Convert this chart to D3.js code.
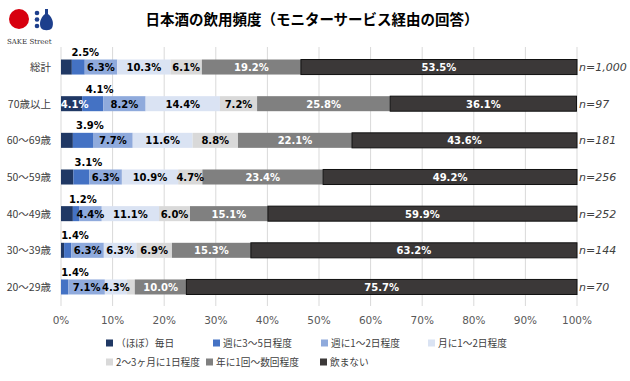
<!DOCTYPE html>
<html>
<head>
<meta charset="utf-8">
<script src="https://cdnjs.cloudflare.com/ajax/libs/d3/7.8.5/d3.min.js"></script>
<style>
body { margin: 0; background: #fff; }
svg { display: block; }
text { font-family: "Noto Sans CJK JP", sans-serif; }
.num { font-family: "DejaVu Sans", Verdana, sans-serif; }
</style>
</head>
<body>
<div id="chart"></div>
<script>
// rows, top to bottom
var categories = ["総計", "70歳以上", "60〜69歳", "50〜59歳", "40〜49歳", "30〜39歳", "20〜29歳"];
var sampleSizes = ["n=1,000", "n=97", "n=181", "n=256", "n=252", "n=144", "n=70"];

var seriesNames = ["（ほぼ）毎日", "週に3〜5日程度", "週に1〜2日程度", "月に1〜2日程度",
  "2〜3ヶ月に1日程度", "年に1回〜数回程度", "飲まない"];

// percentages per row, same order as categories
var everyDay   = [2.1, 4.1, 2.3, 2.4, 2.3, 0.6, 0];
var week3to5   = [2.5, 4.1, 3.9, 3.1, 1.2, 1.4, 1.4];
var week1to2   = [6.3, 8.2, 7.7, 6.3, 4.4, 6.3, 7.1];
var month1to2  = [10.3, 14.4, 11.6, 10.9, 11.1, 6.3, 4.3];
var months2to3 = [6.1, 7.2, 8.8, 4.7, 6.0, 6.9, 1.5];
var yearFew    = [19.2, 25.8, 22.1, 23.4, 15.1, 15.3, 10.0];
var never      = [53.5, 36.1, 43.6, 49.2, 59.9, 63.2, 75.7];

var xTicks = [0, 10, 20, 30, 40, 50, 60, 70, 80, 90, 100];

var colors = ["#203864", "#4472c4", "#8faadc", "#dae3f3", "#d9d9d9", "#808080", "#3b3838"];
var whiteText = [true, false, false, false, false, true, true];

var width = 630, height = 381;

var svg = d3.select("#chart").append("svg")
  .attr("width", width).attr("height", height);

// build rows for the stack
var seriesValues = [everyDay, week3to5, week1to2, month1to2, months2to3, yearFew, never];
var keys = seriesNames;
var rows = categories.map(function (c, i) {
  var r = { cat: c, n: sampleSizes[i] };
  keys.forEach(function (k, j) { r[k] = seriesValues[j][i]; });
  return r;
});
var stacked = d3.stack().keys(keys)(rows);

var x = d3.scaleLinear().domain([0, 100]).range([61, 577]);
var y = d3.scaleBand().domain(categories)
  .range([48.7, 305.3]).paddingInner(0.59).paddingOuter(0.295);

// title
svg.append("text")
  .attr("x", 312).attr("y", 25)
  .attr("text-anchor", "middle")
  .style("font-size", "14.5px").style("font-weight", "bold").style("fill", "#000")
  .text("日本酒の飲用頻度（モニターサービス経由の回答）");

// logo
var logo = svg.append("g");
logo.append("circle").attr("cx", 19).attr("cy", 19).attr("r", 10).style("fill", "#d7000f");
[13, 19.5, 26].forEach(function (cy) {
  logo.append("circle").attr("cx", 37).attr("cy", cy).attr("r", 2.3).style("fill", "#1d3f8c");
});
logo.append("path")
  .attr("d", "M45,9 L48,9 L48,14 C53,18 54,24 52,28 C50,31 43,31 41,28 C39,24 40,18 45,14 Z")
  .style("fill", "#1d3f8c");
logo.append("text")
  .attr("x", 7).attr("y", 44)
  .style("font-family", "'DejaVu Serif', serif").style("font-size", "7px").style("fill", "#333")
  .text("SAKE Street");

// gridlines
svg.append("g").selectAll("line").data(xTicks).enter()
  .append("line")
  .attr("x1", d => x(d)).attr("x2", d => x(d))
  .attr("y1", 47).attr("y2", 306)
  .style("stroke", "#d9d9d9").style("stroke-width", 1);

// x tick labels
svg.append("g").selectAll("text").data(xTicks).enter()
  .append("text")
  .attr("class", "num")
  .attr("x", d => x(d)).attr("y", 324)
  .attr("text-anchor", "middle")
  .style("font-size", "10.5px").style("fill", "#595959")
  .text(d => d + "%");

// bars
var layers = svg.append("g").selectAll("g").data(stacked).enter()
  .append("g")
  .style("fill", (d, i) => colors[i]);

layers.selectAll("rect").data(d => d).enter()
  .append("rect")
  .attr("x", d => x(d[0]))
  .attr("y", d => y(d.data.cat))
  .attr("width", d => x(d[1]) - x(d[0]))
  .attr("height", y.bandwidth())
  .style("stroke", function () { return this.parentNode.__data__.index == 6 ? "#111" : "none"; })
  .style("stroke-width", 1);

// value labels
stacked.forEach(function (layer, i) {
  layer.forEach(function (d) {
    var v = d[1] - d[0];
    var cy = y(d.data.cat) + y.bandwidth() / 2;
    var cx = (x(d[0]) + x(d[1])) / 2;
    if (i == 1) {
      // small segment: label sits above the bar
      svg.append("text").attr("class", "num")
        .attr("x", Math.max(cx + 7, 75)).attr("y", cy - 14)
        .attr("text-anchor", "middle").attr("dominant-baseline", "middle")
        .style("font-size", "10px").style("font-weight", "bold").style("fill", "#000")
        .text(v.toFixed(1) + "%");
      return;
    }
    if (v < 3) return;
    svg.append("text").attr("class", "num")
      .attr("x", i == 0 ? cx + 3 : cx).attr("y", cy + 1)
      .attr("text-anchor", "middle").attr("dominant-baseline", "middle")
      .style("font-size", "10px").style("font-weight", "bold")
      .style("fill", whiteText[i] ? "#fff" : "#000")
      .text(v.toFixed(1) + "%");
  });
});

// category labels
svg.append("g").selectAll("text").data(categories).enter()
  .append("text")
  .attr("x", 51).attr("y", d => y(d) + y.bandwidth() / 2 + 1)
  .attr("text-anchor", "end").attr("dominant-baseline", "middle")
  .style("font-size", "10.5px").style("fill", "#404040")
  .text(d => d);

// n labels
svg.append("g").selectAll("text").data(rows).enter()
  .append("text")
  .attr("class", "num")
  .attr("x", 579).attr("y", d => y(d.cat) + y.bandwidth() / 2 + 1)
  .attr("dominant-baseline", "middle")
  .style("font-size", "11px").style("font-style", "italic").style("fill", "#404040")
  .text(d => d.n);

// legend
var legendPos = [[106, 343], [213, 343], [321, 343], [428, 343], [106, 362], [206, 362], [320, 362]];
var legend = svg.append("g").selectAll("g").data(seriesNames).enter()
  .append("g")
  .attr("transform", (d, i) => "translate(" + legendPos[i][0] + "," + legendPos[i][1] + ")");
legend.append("rect")
  .attr("x", 0).attr("y", -3.5).attr("width", 7).attr("height", 7)
  .style("fill", (d, i) => colors[i]);
legend.append("text")
  .attr("x", 10).attr("y", 1)
  .attr("dominant-baseline", "middle")
  .style("font-size", "9.7px").style("fill", "#404040")
  .text(d => d);
</script>
</body>
</html>
